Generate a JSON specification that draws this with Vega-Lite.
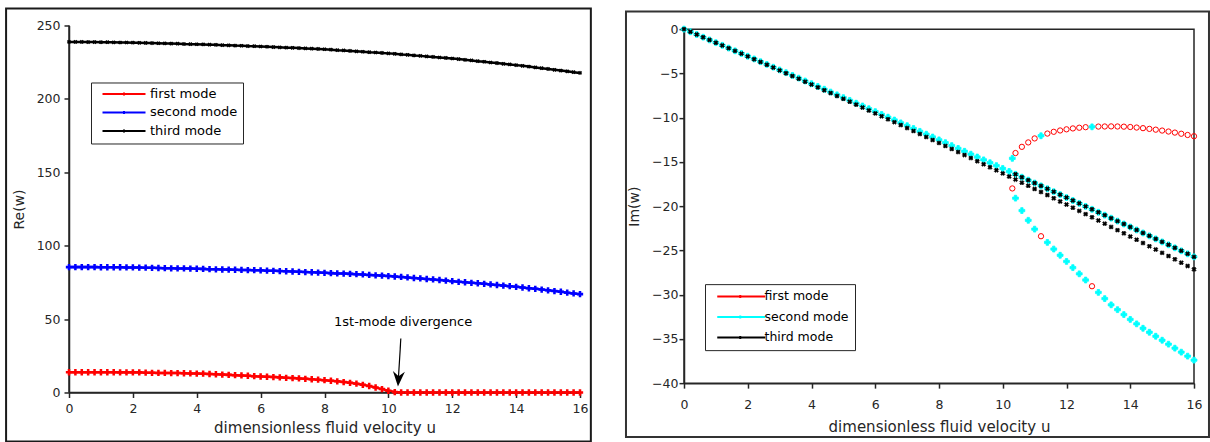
{
"$schema": "https://vega.github.io/schema/vega-lite/v6.json",
"background": "white",
"padding": {"left": 5, "top": 7, "right": 2, "bottom": 2},
"spacing": 32,
"center": true,
"bounds": "full",
"config": {
  "font": "DejaVu Sans",
  "view": {"stroke": null},
  "axis": {"grid": false, "domainColor": "#262626", "tickColor": "#262626", "labelColor": "#262626", "titleColor": "#262626", "domainWidth": 1.5, "tickWidth": 1.5, "tickSize": 5, "labelFlush": false, "labelFontSize": 12.5, "titleFontSize": 15, "titleFontWeight": "normal", "labelFont": "DejaVu Sans", "titleFont": "DejaVu Sans"},
  "legend": {"labelFont": "DejaVu Sans", "labelFontSize": 13, "labelColor": "#000000", "fillColor": "#ffffff", "strokeColor": "#262626", "padding": 5, "symbolSize": 100, "symbolStrokeWidth": 2, "symbolOpacity": 1}
},
"resolve": {"scale": {"stroke": "independent", "fill": "independent"}, "legend": {"stroke": "independent"}},
"datasets": {
"left": [
{"u":0,"mode":1,"re":13.8},{"u":0.2,"mode":1,"re":13.8},{"u":0.4,"mode":1,"re":13.8},{"u":0.6,"mode":1,"re":13.8},{"u":0.8,"mode":1,"re":13.8},{"u":1,"mode":1,"re":13.8},{"u":1.2,"mode":1,"re":13.8},{"u":1.4,"mode":1,"re":13.8},{"u":1.6,"mode":1,"re":13.7},{"u":1.8,"mode":1,"re":13.7},{"u":2,"mode":1,"re":13.7},{"u":2.2,"mode":1,"re":13.7},{"u":2.4,"mode":1,"re":13.5},{"u":2.6,"mode":1,"re":13.4},{"u":2.8,"mode":1,"re":13.3},{"u":3,"mode":1,"re":13.3},{"u":3.2,"mode":1,"re":13.2},{"u":3.4,"mode":1,"re":13.2},{"u":3.6,"mode":1,"re":13.1},{"u":3.8,"mode":1,"re":13.0},{"u":4,"mode":1,"re":12.9},{"u":4.2,"mode":1,"re":12.8},{"u":4.4,"mode":1,"re":12.6},{"u":4.6,"mode":1,"re":12.4},{"u":4.8,"mode":1,"re":12.2},{"u":5,"mode":1,"re":12.0},{"u":5.2,"mode":1,"re":11.8},{"u":5.4,"mode":1,"re":11.6},{"u":5.6,"mode":1,"re":11.4},{"u":5.8,"mode":1,"re":11.1},{"u":6,"mode":1,"re":10.9},{"u":6.2,"mode":1,"re":10.7},{"u":6.4,"mode":1,"re":10.5},{"u":6.6,"mode":1,"re":10.3},{"u":6.8,"mode":1,"re":10.0},{"u":7,"mode":1,"re":9.8},{"u":7.2,"mode":1,"re":9.6},{"u":7.4,"mode":1,"re":9.3},{"u":7.6,"mode":1,"re":9.0},{"u":7.8,"mode":1,"re":8.7},{"u":8,"mode":1,"re":8.4},{"u":8.2,"mode":1,"re":8.0},{"u":8.4,"mode":1,"re":7.6},{"u":8.6,"mode":1,"re":7.1},{"u":8.8,"mode":1,"re":6.6},{"u":9,"mode":1,"re":6.0},{"u":9.2,"mode":1,"re":5.2},{"u":9.4,"mode":1,"re":4.4},{"u":9.6,"mode":1,"re":3.4},{"u":9.8,"mode":1,"re":2.3},{"u":10,"mode":1,"re":1.2},{"u":10.2,"mode":1,"re":0.3},{"u":10.4,"mode":1,"re":0},{"u":10.6,"mode":1,"re":0},{"u":10.8,"mode":1,"re":0},{"u":11,"mode":1,"re":0},{"u":11.2,"mode":1,"re":0},{"u":11.4,"mode":1,"re":0},{"u":11.6,"mode":1,"re":0},{"u":11.8,"mode":1,"re":0},{"u":12,"mode":1,"re":0},{"u":12.2,"mode":1,"re":0},{"u":12.4,"mode":1,"re":0},{"u":12.6,"mode":1,"re":0},{"u":12.8,"mode":1,"re":0},{"u":13,"mode":1,"re":0},{"u":13.2,"mode":1,"re":0},{"u":13.4,"mode":1,"re":0},{"u":13.6,"mode":1,"re":0},{"u":13.8,"mode":1,"re":0},{"u":14,"mode":1,"re":0},{"u":14.2,"mode":1,"re":0},{"u":14.4,"mode":1,"re":0},{"u":14.6,"mode":1,"re":0},{"u":14.8,"mode":1,"re":0},{"u":15,"mode":1,"re":0},{"u":15.2,"mode":1,"re":0},{"u":15.4,"mode":1,"re":0},{"u":15.6,"mode":1,"re":0},{"u":15.8,"mode":1,"re":0},{"u":16,"mode":1,"re":0},
{"u":0,"mode":2,"re":85.4},{"u":0.2,"mode":2,"re":85.4},{"u":0.4,"mode":2,"re":85.4},{"u":0.6,"mode":2,"re":85.4},{"u":0.8,"mode":2,"re":85.4},{"u":1,"mode":2,"re":85.3},{"u":1.2,"mode":2,"re":85.3},{"u":1.4,"mode":2,"re":85.3},{"u":1.6,"mode":2,"re":85.3},{"u":1.8,"mode":2,"re":85.2},{"u":2,"mode":2,"re":85.2},{"u":2.2,"mode":2,"re":85.1},{"u":2.4,"mode":2,"re":85.0},{"u":2.6,"mode":2,"re":84.9},{"u":2.8,"mode":2,"re":84.8},{"u":3,"mode":2,"re":84.7},{"u":3.2,"mode":2,"re":84.6},{"u":3.4,"mode":2,"re":84.5},{"u":3.6,"mode":2,"re":84.5},{"u":3.8,"mode":2,"re":84.4},{"u":4,"mode":2,"re":84.3},{"u":4.2,"mode":2,"re":84.2},{"u":4.4,"mode":2,"re":84.0},{"u":4.6,"mode":2,"re":83.9},{"u":4.8,"mode":2,"re":83.8},{"u":5,"mode":2,"re":83.7},{"u":5.2,"mode":2,"re":83.6},{"u":5.4,"mode":2,"re":83.5},{"u":5.6,"mode":2,"re":83.4},{"u":5.8,"mode":2,"re":83.3},{"u":6,"mode":2,"re":83.2},{"u":6.2,"mode":2,"re":83.0},{"u":6.4,"mode":2,"re":82.9},{"u":6.6,"mode":2,"re":82.7},{"u":6.8,"mode":2,"re":82.6},{"u":7,"mode":2,"re":82.4},{"u":7.2,"mode":2,"re":82.2},{"u":7.4,"mode":2,"re":82.0},{"u":7.6,"mode":2,"re":81.9},{"u":7.8,"mode":2,"re":81.7},{"u":8,"mode":2,"re":81.5},{"u":8.2,"mode":2,"re":81.3},{"u":8.4,"mode":2,"re":81.1},{"u":8.6,"mode":2,"re":81.0},{"u":8.8,"mode":2,"re":80.8},{"u":9,"mode":2,"re":80.6},{"u":9.2,"mode":2,"re":80.4},{"u":9.4,"mode":2,"re":80.1},{"u":9.6,"mode":2,"re":79.8},{"u":9.8,"mode":2,"re":79.6},{"u":10,"mode":2,"re":79.3},{"u":10.2,"mode":2,"re":79.0},{"u":10.4,"mode":2,"re":78.7},{"u":10.6,"mode":2,"re":78.4},{"u":10.8,"mode":2,"re":78.0},{"u":11,"mode":2,"re":77.7},{"u":11.2,"mode":2,"re":77.3},{"u":11.4,"mode":2,"re":77.0},{"u":11.6,"mode":2,"re":76.6},{"u":11.8,"mode":2,"re":76.2},{"u":12,"mode":2,"re":75.8},{"u":12.2,"mode":2,"re":75.4},{"u":12.4,"mode":2,"re":75.1},{"u":12.6,"mode":2,"re":74.7},{"u":12.8,"mode":2,"re":74.4},{"u":13,"mode":2,"re":74.0},{"u":13.2,"mode":2,"re":73.6},{"u":13.4,"mode":2,"re":73.2},{"u":13.6,"mode":2,"re":72.8},{"u":13.8,"mode":2,"re":72.4},{"u":14,"mode":2,"re":72.0},{"u":14.2,"mode":2,"re":71.5},{"u":14.4,"mode":2,"re":71.0},{"u":14.6,"mode":2,"re":70.6},{"u":14.8,"mode":2,"re":70.1},{"u":15,"mode":2,"re":69.6},{"u":15.2,"mode":2,"re":69.1},{"u":15.4,"mode":2,"re":68.6},{"u":15.6,"mode":2,"re":68.0},{"u":15.8,"mode":2,"re":67.5},{"u":16,"mode":2,"re":67.0},
{"u":0,"mode":3,"re":238.8},{"u":0.2,"mode":3,"re":238.8},{"u":0.4,"mode":3,"re":238.8},{"u":0.6,"mode":3,"re":238.7},{"u":0.8,"mode":3,"re":238.7},{"u":1,"mode":3,"re":238.6},{"u":1.2,"mode":3,"re":238.6},{"u":1.4,"mode":3,"re":238.5},{"u":1.6,"mode":3,"re":238.4},{"u":1.8,"mode":3,"re":238.4},{"u":2,"mode":3,"re":238.3},{"u":2.2,"mode":3,"re":238.2},{"u":2.4,"mode":3,"re":238.1},{"u":2.6,"mode":3,"re":238.0},{"u":2.8,"mode":3,"re":237.9},{"u":3,"mode":3,"re":237.8},{"u":3.2,"mode":3,"re":237.7},{"u":3.4,"mode":3,"re":237.6},{"u":3.6,"mode":3,"re":237.4},{"u":3.8,"mode":3,"re":237.3},{"u":4,"mode":3,"re":237.2},{"u":4.2,"mode":3,"re":237.1},{"u":4.4,"mode":3,"re":236.9},{"u":4.6,"mode":3,"re":236.8},{"u":4.8,"mode":3,"re":236.6},{"u":5,"mode":3,"re":236.5},{"u":5.2,"mode":3,"re":236.3},{"u":5.4,"mode":3,"re":236.2},{"u":5.6,"mode":3,"re":236.0},{"u":5.8,"mode":3,"re":235.9},{"u":6,"mode":3,"re":235.7},{"u":6.2,"mode":3,"re":235.5},{"u":6.4,"mode":3,"re":235.3},{"u":6.6,"mode":3,"re":235.1},{"u":6.8,"mode":3,"re":234.9},{"u":7,"mode":3,"re":234.8},{"u":7.2,"mode":3,"re":234.6},{"u":7.4,"mode":3,"re":234.4},{"u":7.6,"mode":3,"re":234.2},{"u":7.8,"mode":3,"re":234.0},{"u":8,"mode":3,"re":233.8},{"u":8.2,"mode":3,"re":233.5},{"u":8.4,"mode":3,"re":233.2},{"u":8.6,"mode":3,"re":233.0},{"u":8.8,"mode":3,"re":232.7},{"u":9,"mode":3,"re":232.4},{"u":9.2,"mode":3,"re":232.1},{"u":9.4,"mode":3,"re":231.8},{"u":9.6,"mode":3,"re":231.6},{"u":9.8,"mode":3,"re":231.3},{"u":10,"mode":3,"re":231.0},{"u":10.2,"mode":3,"re":230.7},{"u":10.4,"mode":3,"re":230.3},{"u":10.6,"mode":3,"re":230.0},{"u":10.8,"mode":3,"re":229.6},{"u":11,"mode":3,"re":229.3},{"u":11.2,"mode":3,"re":228.9},{"u":11.4,"mode":3,"re":228.6},{"u":11.6,"mode":3,"re":228.2},{"u":11.8,"mode":3,"re":227.9},{"u":12,"mode":3,"re":227.5},{"u":12.2,"mode":3,"re":227.1},{"u":12.4,"mode":3,"re":226.6},{"u":12.6,"mode":3,"re":226.2},{"u":12.8,"mode":3,"re":225.7},{"u":13,"mode":3,"re":225.3},{"u":13.2,"mode":3,"re":224.8},{"u":13.4,"mode":3,"re":224.4},{"u":13.6,"mode":3,"re":223.9},{"u":13.8,"mode":3,"re":223.5},{"u":14,"mode":3,"re":223.0},{"u":14.2,"mode":3,"re":222.5},{"u":14.4,"mode":3,"re":222.0},{"u":14.6,"mode":3,"re":221.4},{"u":14.8,"mode":3,"re":220.9},{"u":15,"mode":3,"re":220.4},{"u":15.2,"mode":3,"re":219.8},{"u":15.4,"mode":3,"re":219.3},{"u":15.6,"mode":3,"re":218.8},{"u":15.8,"mode":3,"re":218.2},{"u":16,"mode":3,"re":217.7}
],
"right": [
{"u":10.3,"mode":1,"im":-18.0},{"u":10.4,"mode":1,"im":-14.0},{"u":10.6,"mode":1,"im":-13.3},{"u":10.8,"mode":1,"im":-12.8},{"u":11,"mode":1,"im":-12.35},{"u":11.2,"mode":1,"im":-23.4},{"u":11.4,"mode":1,"im":-11.8},{"u":11.6,"mode":1,"im":-11.6},{"u":11.8,"mode":1,"im":-11.45},{"u":12,"mode":1,"im":-11.32},{"u":12.2,"mode":1,"im":-11.22},{"u":12.4,"mode":1,"im":-11.14},{"u":12.6,"mode":1,"im":-11.08},{"u":12.8,"mode":1,"im":-29.05},{"u":13,"mode":1,"im":-11.01},{"u":13.2,"mode":1,"im":-11.0},{"u":13.4,"mode":1,"im":-10.99},{"u":13.6,"mode":1,"im":-11.0},{"u":13.8,"mode":1,"im":-11.02},{"u":14,"mode":1,"im":-11.06},{"u":14.2,"mode":1,"im":-11.12},{"u":14.4,"mode":1,"im":-11.19},{"u":14.6,"mode":1,"im":-11.27},{"u":14.8,"mode":1,"im":-11.36},{"u":15,"mode":1,"im":-11.46},{"u":15.2,"mode":1,"im":-11.57},{"u":15.4,"mode":1,"im":-11.69},{"u":15.6,"mode":1,"im":-11.82},{"u":15.8,"mode":1,"im":-11.96},{"u":16,"mode":1,"im":-12.1},
{"u":0,"mode":2,"im":0},{"u":0.2,"mode":2,"im":-0.30},{"u":0.4,"mode":2,"im":-0.61},{"u":0.6,"mode":2,"im":-0.91},{"u":0.8,"mode":2,"im":-1.22},{"u":1,"mode":2,"im":-1.53},{"u":1.2,"mode":2,"im":-1.83},{"u":1.4,"mode":2,"im":-2.14},{"u":1.6,"mode":2,"im":-2.45},{"u":1.8,"mode":2,"im":-2.75},{"u":2,"mode":2,"im":-3.06},{"u":2.2,"mode":2,"im":-3.37},{"u":2.4,"mode":2,"im":-3.68},{"u":2.6,"mode":2,"im":-3.99},{"u":2.8,"mode":2,"im":-4.30},{"u":3,"mode":2,"im":-4.61},{"u":3.2,"mode":2,"im":-4.92},{"u":3.4,"mode":2,"im":-5.23},{"u":3.6,"mode":2,"im":-5.54},{"u":3.8,"mode":2,"im":-5.86},{"u":4,"mode":2,"im":-6.17},{"u":4.2,"mode":2,"im":-6.48},{"u":4.4,"mode":2,"im":-6.79},{"u":4.6,"mode":2,"im":-7.11},{"u":4.8,"mode":2,"im":-7.42},{"u":5,"mode":2,"im":-7.74},{"u":5.2,"mode":2,"im":-8.05},{"u":5.4,"mode":2,"im":-8.37},{"u":5.6,"mode":2,"im":-8.68},{"u":5.8,"mode":2,"im":-9.00},{"u":6,"mode":2,"im":-9.32},{"u":6.2,"mode":2,"im":-9.64},{"u":6.4,"mode":2,"im":-9.95},{"u":6.6,"mode":2,"im":-10.27},{"u":6.8,"mode":2,"im":-10.59},{"u":7,"mode":2,"im":-10.91},{"u":7.2,"mode":2,"im":-11.23},{"u":7.4,"mode":2,"im":-11.55},{"u":7.6,"mode":2,"im":-11.87},{"u":7.8,"mode":2,"im":-12.19},{"u":8,"mode":2,"im":-12.51},{"u":8.2,"mode":2,"im":-12.83},{"u":8.4,"mode":2,"im":-13.16},{"u":8.6,"mode":2,"im":-13.48},{"u":8.8,"mode":2,"im":-13.80},{"u":9,"mode":2,"im":-14.13},{"u":9.2,"mode":2,"im":-14.45},{"u":9.4,"mode":2,"im":-14.77},{"u":9.6,"mode":2,"im":-15.10},{"u":9.8,"mode":2,"im":-15.42},{"u":10,"mode":2,"im":-15.75},{"u":10.2,"mode":2,"im":-16.08},
{"u":10.4,"mode":2,"im":-16.40},{"u":10.6,"mode":2,"im":-16.73},{"u":10.8,"mode":2,"im":-17.06},{"u":11,"mode":2,"im":-17.39},{"u":11.2,"mode":2,"im":-17.71},{"u":11.4,"mode":2,"im":-18.04},{"u":11.6,"mode":2,"im":-18.37},{"u":11.8,"mode":2,"im":-18.70},{"u":12,"mode":2,"im":-19.03},{"u":12.2,"mode":2,"im":-19.36},{"u":12.4,"mode":2,"im":-19.69},{"u":12.6,"mode":2,"im":-20.03},{"u":12.8,"mode":2,"im":-20.36},{"u":13,"mode":2,"im":-20.69},{"u":13.2,"mode":2,"im":-21.02},{"u":13.4,"mode":2,"im":-21.36},{"u":13.6,"mode":2,"im":-21.69},{"u":13.8,"mode":2,"im":-22.02},{"u":14,"mode":2,"im":-22.36},{"u":14.2,"mode":2,"im":-22.69},{"u":14.4,"mode":2,"im":-23.03},{"u":14.6,"mode":2,"im":-23.36},{"u":14.8,"mode":2,"im":-23.70},{"u":15,"mode":2,"im":-24.04},{"u":15.2,"mode":2,"im":-24.37},{"u":15.4,"mode":2,"im":-24.71},{"u":15.6,"mode":2,"im":-25.05},{"u":15.8,"mode":2,"im":-25.39},{"u":16,"mode":2,"im":-25.73},
{"u":10.3,"mode":2,"im":-14.6},{"u":10.4,"mode":2,"im":-19.1},{"u":10.6,"mode":2,"im":-20.5},{"u":10.8,"mode":2,"im":-21.6},{"u":11,"mode":2,"im":-22.6},{"u":11.2,"mode":2,"im":-12.05},{"u":11.4,"mode":2,"im":-24.1},{"u":11.6,"mode":2,"im":-24.85},{"u":11.8,"mode":2,"im":-25.55},{"u":12,"mode":2,"im":-26.25},{"u":12.2,"mode":2,"im":-26.95},{"u":12.4,"mode":2,"im":-27.65},{"u":12.6,"mode":2,"im":-28.35},{"u":12.8,"mode":2,"im":-11.04},{"u":13,"mode":2,"im":-29.75},{"u":13.2,"mode":2,"im":-30.45},{"u":13.4,"mode":2,"im":-31.15},{"u":13.6,"mode":2,"im":-31.7},{"u":13.8,"mode":2,"im":-32.25},{"u":14,"mode":2,"im":-32.8},{"u":14.2,"mode":2,"im":-33.3},{"u":14.4,"mode":2,"im":-33.8},{"u":14.6,"mode":2,"im":-34.25},{"u":14.8,"mode":2,"im":-34.7},{"u":15,"mode":2,"im":-35.15},{"u":15.2,"mode":2,"im":-35.6},{"u":15.4,"mode":2,"im":-36.05},{"u":15.6,"mode":2,"im":-36.5},{"u":15.8,"mode":2,"im":-36.95},{"u":16,"mode":2,"im":-37.4},
{"u":0,"mode":3,"im":0},{"u":0.2,"mode":3,"im":-0.30},{"u":0.4,"mode":3,"im":-0.61},{"u":0.6,"mode":3,"im":-0.92},{"u":0.8,"mode":3,"im":-1.22},{"u":1,"mode":3,"im":-1.54},{"u":1.2,"mode":3,"im":-1.84},{"u":1.4,"mode":3,"im":-2.15},{"u":1.6,"mode":3,"im":-2.46},{"u":1.8,"mode":3,"im":-2.77},{"u":2,"mode":3,"im":-3.08},{"u":2.2,"mode":3,"im":-3.40},{"u":2.4,"mode":3,"im":-3.71},{"u":2.6,"mode":3,"im":-4.03},{"u":2.8,"mode":3,"im":-4.34},{"u":3,"mode":3,"im":-4.66},{"u":3.2,"mode":3,"im":-4.98},{"u":3.4,"mode":3,"im":-5.30},{"u":3.6,"mode":3,"im":-5.61},{"u":3.8,"mode":3,"im":-5.94},{"u":4,"mode":3,"im":-6.26},{"u":4.2,"mode":3,"im":-6.58},{"u":4.4,"mode":3,"im":-6.90},{"u":4.6,"mode":3,"im":-7.22},{"u":4.8,"mode":3,"im":-7.55},{"u":5,"mode":3,"im":-7.88},{"u":5.2,"mode":3,"im":-8.20},{"u":5.4,"mode":3,"im":-8.53},{"u":5.6,"mode":3,"im":-8.86},{"u":5.8,"mode":3,"im":-9.19},{"u":6,"mode":3,"im":-9.52},{"u":6.2,"mode":3,"im":-9.85},{"u":6.4,"mode":3,"im":-10.18},{"u":6.6,"mode":3,"im":-10.51},{"u":6.8,"mode":3,"im":-10.84},{"u":7,"mode":3,"im":-11.18},{"u":7.2,"mode":3,"im":-11.51},{"u":7.4,"mode":3,"im":-11.85},{"u":7.6,"mode":3,"im":-12.19},{"u":7.8,"mode":3,"im":-12.53},{"u":8,"mode":3,"im":-12.86},{"u":8.2,"mode":3,"im":-13.20},{"u":8.4,"mode":3,"im":-13.54},{"u":8.6,"mode":3,"im":-13.89},{"u":8.8,"mode":3,"im":-14.23},{"u":9,"mode":3,"im":-14.57},{"u":9.2,"mode":3,"im":-14.92},{"u":9.4,"mode":3,"im":-15.26},{"u":9.6,"mode":3,"im":-15.61},{"u":9.8,"mode":3,"im":-15.95},{"u":10,"mode":3,"im":-16.30},{"u":10.2,"mode":3,"im":-16.65},
{"u":10.4,"mode":3,"im":-17.00},{"u":10.6,"mode":3,"im":-17.35},{"u":10.8,"mode":3,"im":-17.70},{"u":11,"mode":3,"im":-18.06},{"u":11.2,"mode":3,"im":-18.40},{"u":11.4,"mode":3,"im":-18.75},{"u":11.6,"mode":3,"im":-19.11},{"u":11.8,"mode":3,"im":-19.47},{"u":12,"mode":3,"im":-19.82},{"u":12.2,"mode":3,"im":-20.18},{"u":12.4,"mode":3,"im":-20.54},{"u":12.6,"mode":3,"im":-20.90},{"u":12.8,"mode":3,"im":-21.26},{"u":13,"mode":3,"im":-21.62},{"u":13.2,"mode":3,"im":-21.98},{"u":13.4,"mode":3,"im":-22.35},{"u":13.6,"mode":3,"im":-22.71},{"u":13.8,"mode":3,"im":-23.07},{"u":14,"mode":3,"im":-23.44},{"u":14.2,"mode":3,"im":-23.80},{"u":14.4,"mode":3,"im":-24.17},{"u":14.6,"mode":3,"im":-24.53},{"u":14.8,"mode":3,"im":-24.90},{"u":15,"mode":3,"im":-25.28},{"u":15.2,"mode":3,"im":-25.64},{"u":15.4,"mode":3,"im":-26.01},{"u":15.6,"mode":3,"im":-26.39},{"u":15.8,"mode":3,"im":-26.76},{"u":16,"mode":3,"im":-27.14},
{"u":10.4,"mode":3,"im":-16.40},{"u":10.6,"mode":3,"im":-16.73},{"u":10.8,"mode":3,"im":-17.06},{"u":11,"mode":3,"im":-17.39},{"u":11.2,"mode":3,"im":-17.71},{"u":11.4,"mode":3,"im":-18.04},{"u":11.6,"mode":3,"im":-18.37},{"u":11.8,"mode":3,"im":-18.70},{"u":12,"mode":3,"im":-19.03},{"u":12.2,"mode":3,"im":-19.36},{"u":12.4,"mode":3,"im":-19.69},{"u":12.6,"mode":3,"im":-20.03},{"u":12.8,"mode":3,"im":-20.36},{"u":13,"mode":3,"im":-20.69},{"u":13.2,"mode":3,"im":-21.02},{"u":13.4,"mode":3,"im":-21.36},{"u":13.6,"mode":3,"im":-21.69},{"u":13.8,"mode":3,"im":-22.02},{"u":14,"mode":3,"im":-22.36},{"u":14.2,"mode":3,"im":-22.69},{"u":14.4,"mode":3,"im":-23.03},{"u":14.6,"mode":3,"im":-23.36},{"u":14.8,"mode":3,"im":-23.70},{"u":15,"mode":3,"im":-24.04},{"u":15.2,"mode":3,"im":-24.37},{"u":15.4,"mode":3,"im":-24.71},{"u":15.6,"mode":3,"im":-25.05},{"u":15.8,"mode":3,"im":-25.39},{"u":16,"mode":3,"im":-25.73}
]
},
"hconcat": [
{
  "name": "left",
  "width": 511,
  "height": 367,
  "layer": [
    {
      "data": {"name": "left"},
      "mark": {"type": "line", "strokeWidth": 2.5},
      "encoding": {
        "x": {"field": "u", "type": "quantitative", "scale": {"domain": [0, 16], "nice": false, "zero": false},
              "axis": {"tickCount": 8, "title": "dimensionless fluid velocity u", "labelPadding": 5, "titlePadding": 6, "labelFlush": false,
                       "encode": {"ticks": {"update": {"y2": {"value": -5}}}}}},
        "y": {"field": "re", "type": "quantitative", "scale": {"domain": [0, 250], "nice": false},
              "axis": {"tickCount": 5, "title": "Re(w)", "labelPadding": 4, "titlePadding": 10, "titleFontSize": 14,
                       "encode": {"ticks": {"update": {"x2": {"value": 5}}}}}},
        "stroke": {"field": "mode", "type": "nominal", "scale": {"domain": [1, 2, 3], "range": ["#ff0000", "#0000ff", "#000000"]},
                   "legend": {"title": null, "orient": "none", "legendX": 22, "legendY": 57, "symbolType": "M0,0 H8.6 M4,0 H4.6 M4.3,-0.3 V0.3", "labelOffset": 41, "rowPadding": 4.5, "padding": 5,
                              "labelExpr": "['first mode','second mode','third mode'][datum.value - 1]"}}
      }
    },
    {
      "data": {"values": [{}]},
      "mark": {"type": "rect", "fillOpacity": 0, "stroke": "#1a1a1a", "strokeWidth": 2},
      "encoding": {
        "x": {"datum": -1.97, "type": "quantitative"},
        "x2": {"datum": 16.34},
        "y": {"datum": 261.6, "type": "quantitative"},
        "y2": {"datum": -33.4}
      }
    },
    {
      "data": {"values": [{}]},
      "mark": {"type": "rule", "color": "#262626", "strokeWidth": 1.5},
      "encoding": {"x": {"datum": 0, "type": "quantitative"}, "y": {"datum": 0, "type": "quantitative"}, "y2": {"datum": 250}}
    },
    {
      "data": {"values": [{}]},
      "mark": {"type": "rule", "color": "#262626", "strokeWidth": 1.5},
      "encoding": {"x": {"datum": 0, "type": "quantitative"}, "x2": {"datum": 16}, "y": {"datum": 0, "type": "quantitative"}}
    },
    {
      "data": {"name": "left"},
      "transform": [{"filter": "datum.mode < 3"}],
      "mark": {"type": "point", "shape": "cross", "filled": true, "size": 40, "opacity": 1},
      "encoding": {
        "x": {"field": "u", "type": "quantitative"},
        "y": {"field": "re", "type": "quantitative"},
        "fill": {"field": "mode", "type": "nominal", "scale": {"domain": [1, 2, 3], "range": ["#ff0000", "#0000ff", "#000000"]}, "legend": null}
      }
    },
    {
      "data": {"name": "left"},
      "transform": [{"filter": "datum.mode == 3"}],
      "mark": {"type": "point", "shape": "cross", "angle": 45, "filled": true, "size": 18, "opacity": 1, "color": "#000000"},
      "encoding": {
        "x": {"field": "u", "type": "quantitative"},
        "y": {"field": "re", "type": "quantitative"}
      }
    },
    {
      "data": {"values": [{}]},
      "mark": {"type": "text", "text": "1st-mode divergence", "fontSize": 13, "color": "#000000", "align": "center", "baseline": "middle"},
      "encoding": {"x": {"datum": 10.46, "type": "quantitative"}, "y": {"datum": 47.7, "type": "quantitative"}}
    },
    {
      "data": {"values": [{}]},
      "mark": {"type": "rule", "color": "#000000", "strokeWidth": 1.2},
      "encoding": {"x": {"datum": 10.39, "type": "quantitative"}, "y": {"datum": 36.8, "type": "quantitative"}, "x2": {"datum": 10.31}, "y2": {"datum": 8}}
    },
    {
      "data": {"values": [{}]},
      "mark": {"type": "point", "shape": "M0,0 L-1,-2.5 L0,-1.7 L1,-2.5 Z", "size": 144, "filled": true, "color": "#000000", "opacity": 1, "angle": 3.6},
      "encoding": {"x": {"datum": 10.3, "type": "quantitative"}, "y": {"datum": 4.1, "type": "quantitative"}}
    }
  ]
},
{
  "name": "right",
  "width": 510,
  "height": 354,
  "view": {"stroke": "#262626", "strokeWidth": 1.5},
  "layer": [
    {
      "data": {"name": "right"},
      "transform": [{"filter": "datum.mode == 1"}],
      "mark": {"type": "point", "shape": "circle", "filled": false, "size": 28, "strokeWidth": 1, "opacity": 1},
      "encoding": {
        "x": {"field": "u", "type": "quantitative", "scale": {"domain": [0, 16], "nice": false, "zero": false},
              "axis": {"tickCount": 8, "title": "dimensionless fluid velocity u", "labelPadding": 10, "titlePadding": 9, "labelFlush": false,
                       "encode": {"ticks": {"update": {"y2": {"value": -5}}}}}},
        "y": {"field": "im", "type": "quantitative", "scale": {"domain": [-40, 0], "nice": false},
              "axis": {"tickCount": 8, "title": "Im(w)", "labelPadding": 1, "titlePadding": 10, "titleFontSize": 14,
                       "encode": {"ticks": {"update": {"x2": {"value": 5}}}}}},
        "stroke": {"field": "mode", "type": "nominal", "scale": {"domain": [1, 2, 3], "range": ["#ff0000", "#00ffff", "#000000"]},
                   "legend": {"title": null, "orient": "none", "legendX": 21, "legendY": 255, "symbolType": "M0,0 H9.6 M4.3,0 H4.9 M4.6,-0.3 V0.3", "labelOffset": 41, "rowPadding": 7.5, "padding": 6, "labelFontSize": 12.5,
                              "labelExpr": "['first mode','second mode','third mode'][datum.value - 1]"}}
      }
    },
    {
      "data": {"values": [{}]},
      "mark": {"type": "rect", "fillOpacity": 0, "stroke": "#333333", "strokeWidth": 2},
      "encoding": {
        "x": {"datum": -1.82, "type": "quantitative"},
        "x2": {"datum": 16.47},
        "y": {"datum": 2.0, "type": "quantitative"},
        "y2": {"datum": -46.1}
      }
    },
    {
      "data": {"name": "right"},
      "transform": [{"filter": "datum.mode == 2"}],
      "mark": {"type": "point", "shape": "cross", "filled": true, "fill": "#00ffff", "size": 34, "strokeWidth": 0.8, "opacity": 1},
      "encoding": {
        "x": {"field": "u", "type": "quantitative"},
        "y": {"field": "im", "type": "quantitative"},
        "stroke": {"field": "mode", "type": "nominal"}
      }
    },
    {
      "data": {"name": "right"},
      "transform": [{"filter": "datum.mode == 3"}],
      "mark": {"type": "point", "shape": "cross", "angle": 45, "filled": true, "fill": "#000000", "size": 20, "strokeWidth": 0.5, "opacity": 1},
      "encoding": {
        "x": {"field": "u", "type": "quantitative"},
        "y": {"field": "im", "type": "quantitative"},
        "stroke": {"field": "mode", "type": "nominal"}
      }
    }
  ]
}
]
}
